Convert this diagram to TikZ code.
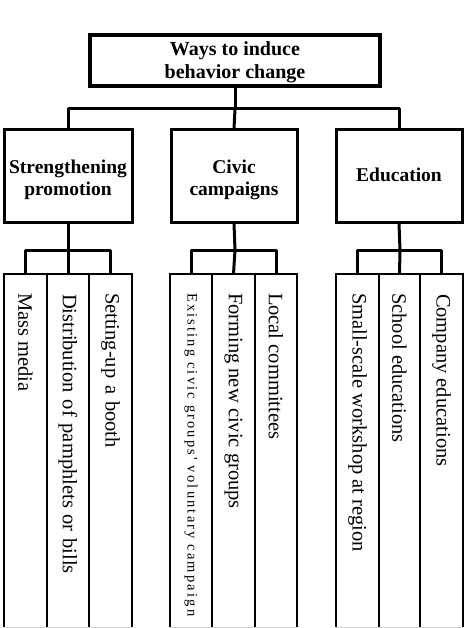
\documentclass[tikz,border=0pt]{standalone}
\usepackage{fontspec}
\setmainfont{Liberation Serif}
\newfontfamily\spacedfont[LetterSpace=15]{Liberation Serif}
\newcommand{\twolines}[2]{\begin{tabular}{@{}c@{}}#1\\#2\end{tabular}}
\begin{document}
\begin{tikzpicture}[x=1pt,y=-1pt,
  topbox/.style={draw,line width=3.5pt,minimum width=290pt,minimum height=51pt,inner sep=0pt,
    font=\bfseries\fontsize{20}{23}\selectfont},
  catbox/.style={draw,line width=3pt,minimum height=92pt,inner sep=0pt,
    font=\bfseries\fontsize{19.5}{22}\selectfont},
  leafbox/.style={minimum height=353pt,inner sep=0pt},
  leaftext/.style={rotate=-90,anchor=west,inner sep=0pt,font=\fontsize{20.5}{24}\selectfont},
  leafline/.style={line width=2pt},
  conn/.style={line width=3pt,line join=round}]
\useasboundingbox (0,0) rectangle (464,628);
\node[topbox] (top) at (235,60.5) {\raisebox{-7.5pt}[0pt][0pt]{\twolines{Ways to induce}{behavior change}}};
\node[catbox,minimum width=128pt] (b1) at (68,176) {\raisebox{-9pt}[0pt][0pt]{\twolines{Strengthening}{promotion}}};
\node[catbox,minimum width=126pt] (b2) at (234,176) {\raisebox{-9pt}[0pt][0pt]{\twolines{Civic}{campaigns}}};
\node[catbox,minimum width=126pt] (b3) at (399,176) {\raisebox{3pt}{Education}};
\coordinate (bar) at (235,109);
\draw[conn] (top.south) -- (bar);
\draw[conn] (b1.north) |- (bar) -| (b3.north);
\draw[conn] (bar) -- (b2.north);
% leaves
\node[leafbox,minimum width=43pt] (l1) at (25.5,450.5) {};
\node[leafbox,minimum width=42pt] (l2) at (68,450.5) {};
\node[leafbox,minimum width=43pt] (l3) at (110.5,450.5) {};
\node[leafbox,minimum width=42pt] (l4) at (191,450.5) {};
\node[leafbox,minimum width=43pt] (l5) at (233.5,450.5) {};
\node[leafbox,minimum width=42pt] (l6) at (276,450.5) {};
\node[leafbox,minimum width=43pt] (l7) at (357.5,450.5) {};
\node[leafbox,minimum width=41pt] (l8) at (399.5,450.5) {};
\node[leafbox,minimum width=43pt] (l9) at (441.5,450.5) {};
\foreach \n in {l1,l2,l3,l4,l5,l6,l7,l8,l9}{
  \draw[leafline] (\n.south west) -- (\n.north west) -- (\n.north east) -- (\n.south east);
  \draw[gray!35,line width=0.8pt] (\n.south west) -- (\n.south east);
}
% group connectors
\coordinate (g1) at (68,250);
\coordinate (g2) at (235,250);
\coordinate (g3) at (400,250);
\draw[conn] (b1.south) -- (g1);
\draw[conn] (l1.north) |- (g1) -| (l3.north);
\draw[conn] (g1) -- (l2.north);
\draw[conn] (b2.south) -- (g2);
\draw[conn] (l4.north) |- (g2) -| (l6.north);
\draw[conn] (g2) -- (l5.north);
\draw[conn] (b3.south) -- (g3);
\draw[conn] (l7.north) |- (g3) -| (l9.north);
\draw[conn] (g3) -- (l8.north);
% leaf texts
\node[leaftext] (t1) at ([yshift=-19pt]l1.north) {Mass media};
\node[leaftext] (t2) at ([yshift=-20pt]l2.north) {Distribution\hspace{0.33em}of\hspace{0.33em}pamphlets\hspace{0.33em}or\hspace{0.33em}bills};
\node[leaftext] (t3) at ([yshift=-19pt]l3.north) {Setting-up\hspace{0.33em}a\hspace{0.33em}booth};
\node[leaftext,font=\spacedfont\fontsize{14.5}{16}\selectfont] (t4) at ([yshift=-19pt]l4.north) {Existing civic groups' voluntary campaign};
\node[leaftext] (t5) at ([yshift=-19pt]l5.north) {Forming new civic groups};
\node[leaftext] (t6) at ([yshift=-19pt]l6.north) {Local committees};
\node[leaftext] (t7) at ([yshift=-19pt]l7.north) {Small-scale workshop at region};
\node[leaftext] (t8) at ([yshift=-19pt]l8.north) {School educations};
\node[leaftext] (t9) at ([yshift=-20pt]l9.north) {Company educations};
\end{tikzpicture}
\end{document}
